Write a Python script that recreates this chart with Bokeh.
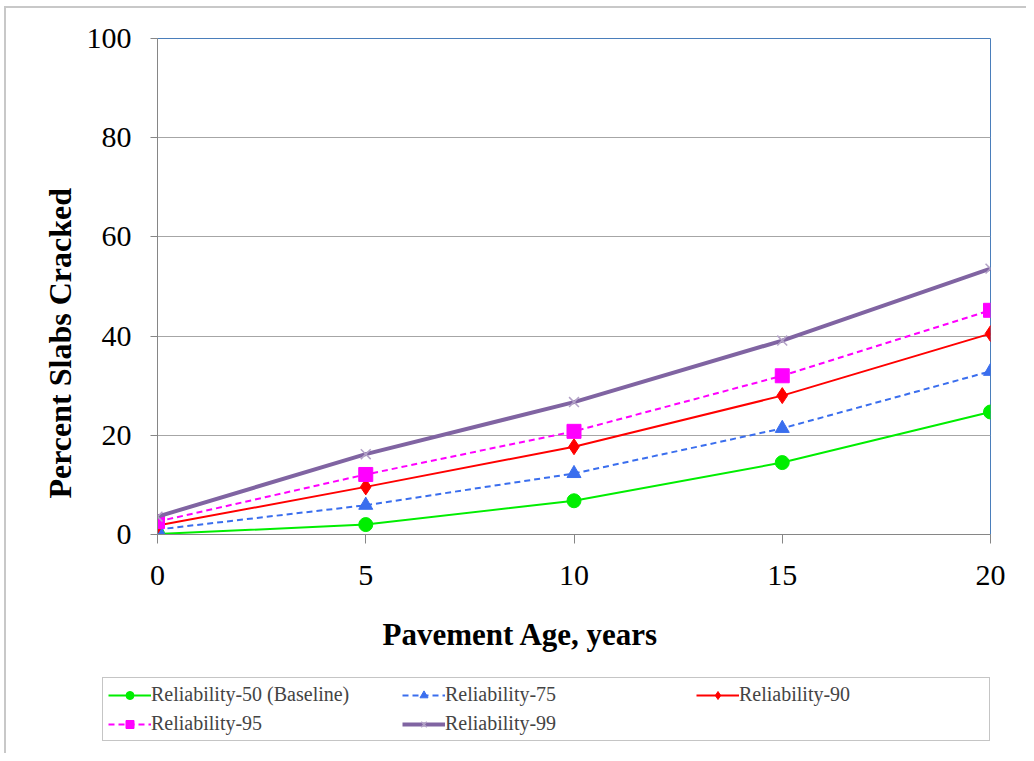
from bokeh.plotting import figure
from bokeh.layouts import column
from bokeh.models import Legend, LegendItem, Range1d, FixedTicker, Title
from bokeh.embed import file_html
from bokeh.resources import INLINE

# ---- data ----
age_years = [0, 5, 10, 15, 20]
rel50 = [0.1, 2.0, 6.8, 14.5, 24.7]
rel75 = [1.0, 5.9, 12.3, 21.4, 32.9]
rel90 = [1.8, 9.6, 17.7, 28.0, 40.5]
rel95 = [2.6, 12.1, 20.8, 32.0, 45.2]
rel99 = [3.6, 16.2, 26.7, 39.1, 53.6]
series_names = ["Reliability-50 (Baseline)", "Reliability-75", "Reliability-90",
                "Reliability-95", "Reliability-99"]
x_ticks = [0, 5, 10, 15, 20]
y_ticks = [0, 20, 40, 60, 80, 100]
x_title = "Pavement Age, years"
y_title = "Percent Slabs Cracked"

SERIF = "Liberation Serif"

styles = [
    dict(color="#00EE00", width=2, dash="solid", marker="circle", size=14, mline="#00EE00", mfill="#00EE00"),
    dict(color="#3A6EEE", width=2, dash="6 4", marker="triangle", size=14, mline="#3A6EEE", mfill="#3A6EEE"),
    dict(color="#FF0000", width=2, dash="solid", marker="diamond", size=16, mline="#FF0000", mfill="#FF0000"),
    dict(color="#FF00FF", width=2, dash="6 4", marker="square", size=14, mline="#FF00FF", mfill="#FF00FF"),
    dict(color="#8064A2", width=4, dash="solid", marker="x", size=14, mline="#B3A2C7", mfill=None),
]
series = [rel50, rel75, rel90, rel95, rel99]

# ---- main chart ----
p = figure(width=1026, height=606, output_backend="svg", toolbar_location=None,
           x_range=Range1d(0, 20), y_range=Range1d(0, 100),
           min_border_left=157, min_border_right=36, min_border_top=38,
           min_border_bottom=72)

p.border_fill_alpha = 0
p.background_fill_color = "white"
p.outline_line_color = "#4A7EBB"
p.outline_line_width = 1
p.styles = {"box-shadow": "inset 4px 6px 0 0 white, inset 6px 8px 0 0 #C8C8C8"}

p.xaxis.axis_line_color = "#868686"
p.yaxis.axis_line_color = "#868686"
p.xaxis.major_tick_line_color = "#868686"
p.yaxis.major_tick_line_color = "#868686"
p.xaxis.minor_tick_line_color = None
p.yaxis.minor_tick_line_color = None
p.xaxis.major_tick_out = 9
p.xaxis.major_tick_in = 0
p.yaxis.major_tick_out = 7
p.yaxis.major_tick_in = 0
p.xaxis.ticker = FixedTicker(ticks=x_ticks)
p.yaxis.ticker = FixedTicker(ticks=y_ticks)

for ax in (p.xaxis, p.yaxis):
    ax.major_label_text_font = SERIF
    ax.major_label_text_font_size = "30px"
    ax.major_label_text_color = "black"

p.xaxis.major_label_standoff = 22
p.yaxis.major_label_standoff = 19

yt = Title(text=y_title, align="left", offset=36, standoff=12,
           text_font=SERIF, text_font_size="32px", text_font_style="bold", text_color="black")
p.add_layout(yt, "left")

p.xgrid.grid_line_color = None
p.ygrid.grid_line_color = "#A6A6A6"
p.ygrid.grid_line_width = 1

for ys, st in zip(series, styles):
    p.line(age_years, ys, line_color=st["color"], line_width=st["width"], line_dash=st["dash"])
    p.scatter(age_years, ys, marker=st["marker"], size=st["size"], line_color=st["mline"],
              fill_color=st["mfill"], line_width=1.5 if st["marker"] == "x" else 1)

# ---- x title + legend strip (its renderers lie outside its own ranges, so only the legend shows) ----
p2 = figure(width=1026, height=147, output_backend="svg", toolbar_location=None,
            x_range=Range1d(100, 101), y_range=Range1d(100, 101),
            min_border_left=0, min_border_right=0, min_border_top=0, min_border_bottom=0)
p2.frame_align = False
p2.axis.visible = False
p2.grid.grid_line_color = None
p2.outline_line_color = None
p2.border_fill_alpha = 0
p2.background_fill_alpha = 0
p2.styles = {"box-shadow": "inset 4px 0 0 0 white, inset 6px 0 0 0 #C8C8C8"}

xt = Title(text=x_title, align="left", offset=382, standoff=16,
           text_font=SERIF, text_font_size="31px", text_font_style="bold", text_color="black")
p2.add_layout(xt, "above")

items = []
for name, ys, st in zip(series_names, series, styles):
    l = p2.line(age_years, ys, line_color=st["color"], line_width=st["width"], line_dash=st["dash"])
    s = p2.scatter(age_years, ys, marker=st["marker"], size=st["size"], line_color=st["mline"],
                   fill_color=st["mfill"], line_width=1.5 if st["marker"] == "x" else 1)
    items.append(LegendItem(label=name, renderers=[l, s]))

legend = Legend(items=items, location=(102, 12), orientation="horizontal", ncols=3,
                glyph_width=43, glyph_height=20, label_height=20, label_width=245,
                spacing=6, padding=5, margin=0, label_standoff=0,
                label_text_font=SERIF, label_text_font_size="20px",
                border_line_color="#8C8C8C", border_line_width=1.5,
                background_fill_color="white", background_fill_alpha=1)
p2.add_layout(legend, "center")

layout = column(p, p2, spacing=0)

html = file_html(layout, INLINE)
open("out.html", "w").write(html)
